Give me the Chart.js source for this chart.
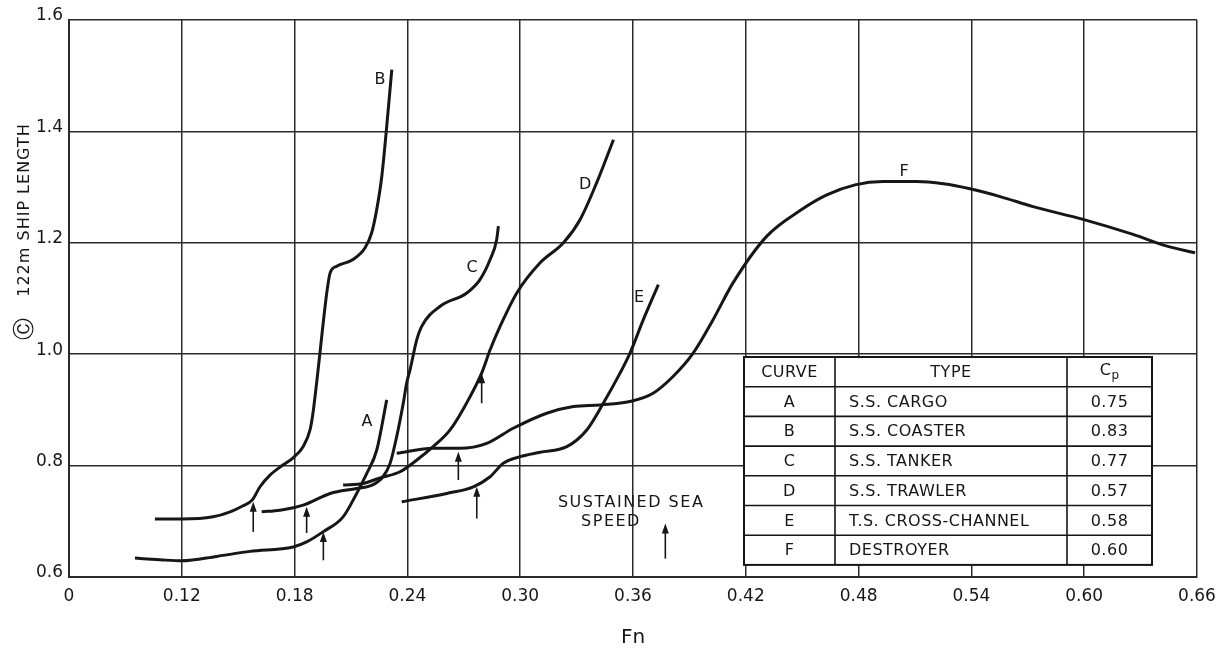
<!DOCTYPE html>
<html>
<head>
<meta charset="utf-8">
<script src="https://cdn.jsdelivr.net/npm/chart.js@4.4.1/dist/chart.umd.min.js"></script>
<style>
  html, body { margin: 0; padding: 0; background: #fff; }
  #wrap { width: 1225px; height: 651px; position: relative; }
</style>
</head>
<body>
<div id="wrap"><canvas id="resistanceChart"></canvas></div>
<script>
// Axis ticks (the Fn axis is broken: its first tick is printed as 0)
const fnTicks = [0.06, 0.12, 0.18, 0.24, 0.30, 0.36, 0.42, 0.48, 0.54, 0.60, 0.66];
const fnTickLabels = ['0', '0.12', '0.18', '0.24', '0.30', '0.36', '0.42', '0.48', '0.54', '0.60', '0.66'];
const cTicks = [0.6, 0.8, 1.0, 1.2, 1.4, 1.6];
const cTickLabels = ['0.6', '0.8', '1.0', '1.2', '1.4', '1.6'];

// Table of curves
const curveIds = ['A', 'B', 'C', 'D', 'E', 'F'];
const curveTypes = ['S.S. CARGO', 'S.S. COASTER', 'S.S. TANKER', 'S.S. TRAWLER', 'T.S. CROSS-CHANNEL', 'DESTROYER'];
const cpValues = ['0.75', '0.83', '0.77', '0.57', '0.58', '0.60'];

// Curves, [Fn, C]
const curveA = [[0.0951, 0.634], [0.1084, 0.631], [0.1200, 0.629], [0.1386, 0.637], [0.1563, 0.646], [0.1793, 0.654],
  [0.1864, 0.663], [0.1951, 0.681], [0.2058, 0.708], [0.2130, 0.750], [0.2184, 0.786], [0.2237, 0.828], [0.2290, 0.918]];
const curveB = [[0.1057, 0.704], [0.1201, 0.704], [0.1366, 0.708], [0.1457, 0.717], [0.1526, 0.728], [0.1574, 0.738],
  [0.1616, 0.762], [0.1669, 0.783], [0.1738, 0.801], [0.1792, 0.814], [0.1845, 0.834], [0.1882, 0.864], [0.1898, 0.895],
  [0.1919, 0.954], [0.1935, 1.003], [0.1971, 1.110], [0.1989, 1.146], [0.2024, 1.158], [0.2111, 1.170], [0.2175, 1.191],
  [0.2210, 1.218], [0.2237, 1.260], [0.2264, 1.320], [0.2290, 1.409], [0.2317, 1.511]];
const curveC = [[0.1625, 0.717], [0.1722, 0.720], [0.1846, 0.729], [0.1989, 0.750], [0.2130, 0.759], [0.2212, 0.765],
  [0.2270, 0.780], [0.2308, 0.804], [0.2343, 0.852], [0.2378, 0.912], [0.2396, 0.948], [0.2414, 0.972], [0.2450, 1.026],
  [0.2476, 1.050], [0.2574, 1.086], [0.2716, 1.110], [0.2786, 1.134], [0.2840, 1.170], [0.2875, 1.206], [0.2884, 1.230]];
const curveD = [[0.2058, 0.765], [0.2164, 0.768], [0.2255, 0.778], [0.2361, 0.789], [0.2450, 0.810], [0.2537, 0.834],
  [0.2627, 0.864], [0.2716, 0.913], [0.2796, 0.967], [0.2840, 1.008], [0.2893, 1.050], [0.2982, 1.110], [0.3106, 1.164],
  [0.3230, 1.200], [0.3319, 1.242], [0.3407, 1.308], [0.3496, 1.385]];
const curveE = [[0.2370, 0.735], [0.2609, 0.750], [0.2751, 0.762], [0.2840, 0.780], [0.2909, 0.804], [0.2999, 0.816],
  [0.3106, 0.824], [0.3248, 0.834], [0.3354, 0.864], [0.3442, 0.912], [0.3531, 0.966], [0.3584, 1.002], [0.3655, 1.062],
  [0.3735, 1.125]];
const curveF = [[0.2343, 0.822], [0.2538, 0.831], [0.2680, 0.831], [0.2822, 0.840], [0.2963, 0.867], [0.3141, 0.894],
  [0.3283, 0.906], [0.3425, 0.909], [0.3584, 0.915], [0.3707, 0.930], [0.3813, 0.960], [0.3920, 1.002], [0.4026, 1.062],
  [0.4132, 1.128], [0.4312, 1.212], [0.4489, 1.258], [0.4631, 1.286], [0.4781, 1.304], [0.4930, 1.310], [0.5110, 1.310],
  [0.5251, 1.306], [0.5393, 1.297], [0.5553, 1.283], [0.5728, 1.265], [0.5994, 1.242], [0.6260, 1.215], [0.6441, 1.194],
  [0.6590, 1.182]];

// Sustained sea speed arrows (one per curve, A..F): Fn, C at head, C at tail
const sustainedFn = [0.1953, 0.1580, 0.1864, 0.2795, 0.2769, 0.2671];
const sustainedHead = [0.681, 0.735, 0.726, 0.966, 0.762, 0.825];
const sustainedTail = [0.630, 0.681, 0.679, 0.912, 0.705, 0.774];

// Curve letters
const labelFn = [0.2185, 0.2254, 0.2744, 0.3345, 0.3632, 0.5042];
const labelC = [0.8785, 1.493, 1.155, 1.304, 1.101, 1.328];

const inkColor = '#161616';
const gridColor = '#2b2b2b';
const fontFamily = '"DejaVu Sans", sans-serif';

const curveList = [curveA, curveB, curveC, curveD, curveE, curveF];

function drawArrow(ctx, x, yHead, yTail) {
  ctx.beginPath();
  ctx.moveTo(x, yTail);
  ctx.lineTo(x, yHead + 4);
  ctx.stroke();
  ctx.beginPath();
  ctx.moveTo(x, yHead);
  ctx.lineTo(x - 3.5, yHead + 10);
  ctx.lineTo(x + 3.5, yHead + 10);
  ctx.closePath();
  ctx.fill();
}

// Letters, arrows, curve table and y title
const notesPlugin = {
  id: 'notes',
  afterDatasetsDraw(chart) {
    const ctx = chart.ctx;
    const xs = chart.scales.x;
    const ys = chart.scales.y;
    ctx.save();
    ctx.fillStyle = inkColor;
    ctx.strokeStyle = inkColor;
    ctx.lineWidth = 1.6;

    // curve letters
    ctx.font = '16px ' + fontFamily;
    ctx.textAlign = 'center';
    ctx.textBaseline = 'middle';
    curveIds.forEach(function (id, i) {
      ctx.fillText(id, xs.getPixelForValue(labelFn[i]), ys.getPixelForValue(labelC[i]));
    });

    // sustained sea speed arrows
    sustainedFn.forEach(function (fn, i) {
      drawArrow(ctx, xs.getPixelForValue(fn), ys.getPixelForValue(sustainedHead[i]), ys.getPixelForValue(sustainedTail[i]));
    });

    // key
    ctx.font = '16px ' + fontFamily;
    ctx.letterSpacing = '1.5px';
    ctx.fillText('SUSTAINED SEA', xs.getPixelForValue(0.359), ys.getPixelForValue(0.733));
    ctx.fillText('SPEED', xs.getPixelForValue(0.3483), ys.getPixelForValue(0.699));
    ctx.letterSpacing = '0px';
    drawArrow(ctx, xs.getPixelForValue(0.3772), ys.getPixelForValue(0.696), ys.getPixelForValue(0.633));

    // table
    const cols = [744, 835, 1067, 1152];
    const top = 357;
    const rowH = 29.7;
    const rows = curveIds.length + 1;
    ctx.fillStyle = '#fff';
    ctx.fillRect(cols[0], top, cols[3] - cols[0], rowH * rows);
    ctx.lineWidth = 2;
    ctx.strokeRect(cols[0], top, cols[3] - cols[0], rowH * rows);
    ctx.lineWidth = 1.6;
    ctx.beginPath();
    for (let r = 1; r < rows; r++) {
      ctx.moveTo(cols[0], top + r * rowH);
      ctx.lineTo(cols[3], top + r * rowH);
    }
    ctx.moveTo(cols[1], top);
    ctx.lineTo(cols[1], top + rows * rowH);
    ctx.moveTo(cols[2], top);
    ctx.lineTo(cols[2], top + rows * rowH);
    ctx.stroke();

    ctx.fillStyle = inkColor;
    ctx.font = '16px ' + fontFamily;
    ctx.letterSpacing = '0.5px';
    ctx.textAlign = 'center';
    const cy0 = top + rowH / 2 + 1;
    ctx.fillText('CURVE', (cols[0] + cols[1]) / 2, cy0);
    ctx.fillText('TYPE', (cols[1] + cols[2]) / 2, cy0);
    ctx.fillText('C', (cols[2] + cols[3]) / 2 - 4, cy0 - 2);
    ctx.font = '12px ' + fontFamily;
    ctx.fillText('p', (cols[2] + cols[3]) / 2 + 6, cy0 + 3);
    ctx.font = '16px ' + fontFamily;
    curveIds.forEach(function (id, i) {
      const cy = top + (i + 1.5) * rowH + 1;
      ctx.textAlign = 'center';
      ctx.fillText(id, (cols[0] + cols[1]) / 2, cy);
      ctx.fillText(cpValues[i], (cols[2] + cols[3]) / 2, cy);
      ctx.textAlign = 'left';
      ctx.fillText(curveTypes[i], cols[1] + 14, cy);
    });
    ctx.letterSpacing = '0px';
    ctx.restore();
  },
  afterDraw(chart) {
    const ctx = chart.ctx;
    ctx.save();
    ctx.fillStyle = inkColor;
    ctx.translate(25, 0);
    ctx.rotate(-Math.PI / 2);
    ctx.textAlign = 'center';
    ctx.textBaseline = 'middle';
    ctx.font = '16px ' + fontFamily;
    ctx.letterSpacing = '1px';
    ctx.fillText('122m SHIP LENGTH', -210, 0);
    ctx.letterSpacing = '0px';
    ctx.font = '22px ' + fontFamily;
    ctx.fillText('Ⓒ', -329, 0);
    ctx.restore();
  }
};

const chartEl = document.getElementById('resistanceChart');
new Chart(chartEl, {
  type: 'scatter',
  data: {
    datasets: curveList.map(function (pts, i) {
      return {
        label: curveIds[i],
        data: pts.map(function (p) { return { x: p[0], y: p[1] }; }),
        showLine: true,
        borderColor: inkColor,
        borderWidth: 3,
        pointRadius: 0,
        cubicInterpolationMode: 'monotone',
        fill: false
      };
    })
  },
  options: {
    responsive: true,
    maintainAspectRatio: false,
    animation: false,
    layout: {
      padding: { top: 20, right: 28, left: 0, bottom: 0 }
    },
    plugins: {
      legend: { display: false },
      tooltip: { enabled: false }
    },
    scales: {
      x: {
        type: 'linear',
        min: 0.06,
        max: 0.66,
        afterBuildTicks: function (scale) {
          scale.ticks = fnTicks.map(function (v) { return { value: v }; });
        },
        afterFit: function (scale) {
          scale.height = 74;
        },
        ticks: {
          callback: function (value, index) { return fnTickLabels[index]; },
          font: { family: fontFamily, size: 17 },
          color: inkColor,
          padding: 9,
          maxRotation: 0,
          autoSkip: false
        },
        grid: { color: gridColor, lineWidth: 1.5, drawTicks: false },
        border: { color: gridColor, width: 2 },
        title: {
          display: true,
          text: 'Fn',
          color: inkColor,
          font: { family: fontFamily, size: 20 },
          padding: { top: 4, bottom: 1 }
        }
      },
      y: {
        type: 'linear',
        min: 0.6,
        max: 1.6,
        afterBuildTicks: function (scale) {
          scale.ticks = cTicks.map(function (v) { return { value: v }; });
        },
        afterFit: function (scale) {
          scale.width = 69;
        },
        ticks: {
          callback: function (value, index) { return cTickLabels[index]; },
          font: { family: fontFamily, size: 17 },
          color: inkColor,
          padding: 6,
          labelOffset: -4
        },
        grid: { color: gridColor, lineWidth: 1.5, drawTicks: false },
        border: { color: gridColor, width: 2 }
      }
    }
  },
  plugins: [notesPlugin]
});
</script>
</body>
</html>
